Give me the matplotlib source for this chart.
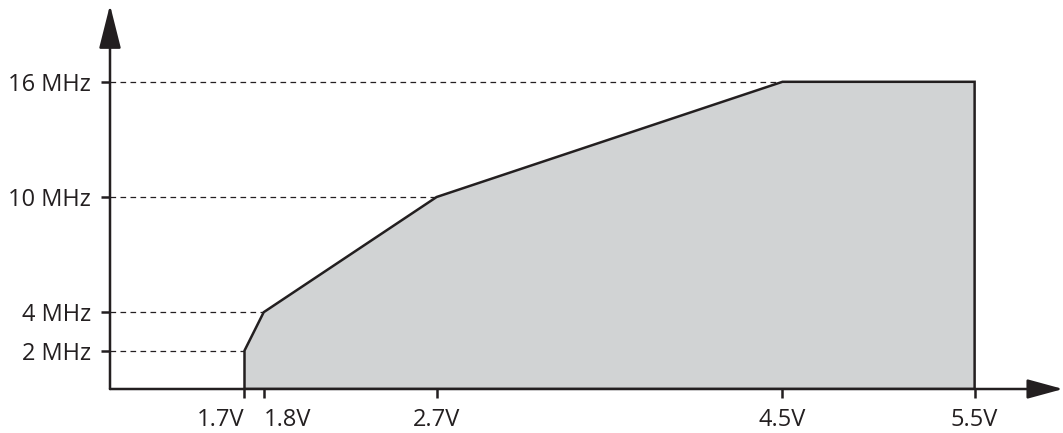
import matplotlib.pyplot as plt
from matplotlib.patches import Polygon

# operating region: supply voltage (V) vs. max clock frequency (MHz)
volts = [1.7, 1.7, 1.8, 2.7, 4.5, 5.5, 5.5]
mhz = [0, 2, 4, 10, 16, 16, 0]

xticks = [1.7, 1.8, 2.7, 4.5, 5.5]
xlabels = ['1.7V', '1.8V', '2.7V', '4.5V', '5.5V']
yticks = [2, 4, 10, 16]
ylabels = ['2 MHz', '4 MHz', '10 MHz', '16 MHz']

# corner points the dashed guides run to
guide_v = [1.7, 1.8, 2.7, 4.5]
guide_f = [2, 4, 10, 16]

x_min, x_max = 1.0, 5.96
y_min, y_max = 0, 20.0

ink = '#231F20'
fill = '#D1D3D4'

plt.rcParams['font.family'] = ['Open Sans', 'DejaVu Sans']

fig = plt.figure(figsize=(10.63, 4.33), dpi=100)
ax = fig.add_axes([110 / 1063, 44 / 433, 953 / 1063, 384 / 433])
ax.set_xlim(x_min, x_max)
ax.set_ylim(y_min, y_max)
for s in ax.spines.values():
    s.set_visible(False)

# shaded region
ax.add_patch(Polygon(list(zip(volts, mhz)), closed=True, facecolor=fill,
                     edgecolor=ink, linewidth=1.8, joinstyle='miter', zorder=2))

# dashed guides from the y axis
for v, f in zip(guide_v, guide_f):
    ax.plot([x_min, v], [f, f], color=ink, linewidth=0.9,
            dashes=(4.5, 3.5), zorder=1)

# axes with arrow heads
ax.annotate('', xy=(x_min, y_max), xytext=(x_min, y_min),
            arrowprops=dict(arrowstyle='-|>,head_length=2.7,head_width=0.68',
                            color=ink, lw=1.8, shrinkA=0, shrinkB=0),
            annotation_clip=False, zorder=3)
ax.annotate('', xy=(x_max, y_min), xytext=(x_min, y_min),
            arrowprops=dict(arrowstyle='-|>,head_length=2.2,head_width=0.6',
                            color=ink, lw=1.8, shrinkA=0, shrinkB=0),
            annotation_clip=False, zorder=3)

ax.set_xticks(xticks)
ax.set_xticklabels(xlabels)
ax.set_yticks(yticks)
ax.set_yticklabels(ylabels)
ax.tick_params(axis='both', direction='out', length=6.5, width=1.8,
               color=ink, labelcolor=ink, labelsize=17)
ax.tick_params(axis='y', pad=7)
ax.tick_params(axis='x', pad=7)

# the two closely spaced low-voltage labels sit either side of their ticks
xl = ax.get_xticklabels()
xl[0].set_ha('right')
xl[1].set_ha('left')

fig.savefig('out.png', dpi=100)
